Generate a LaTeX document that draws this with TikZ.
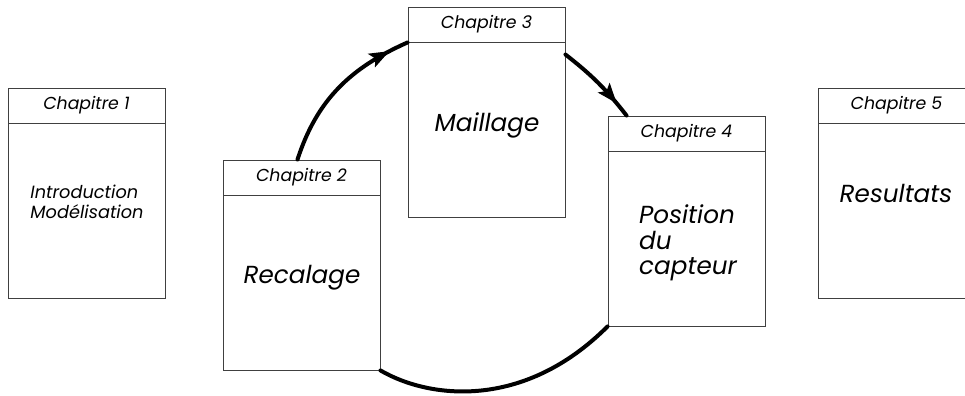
\documentclass[tikz,border=0pt]{standalone}
\usepackage{fontspec}
\setmainfont{Poppins}
\usetikzlibrary{arrows.meta,decorations.markings,calc}
\begin{document}
\begin{tikzpicture}[x=0.75pt,y=0.75pt,
  boxline/.style={draw=black!75,line width=0.7pt},
  header/.style={boxline,minimum width=117.75pt,minimum height=26.25pt,inner sep=0pt,
    font=\itshape\fontsize{13}{15}\selectfont},
  body/.style={boxline,minimum width=117.75pt,minimum height=131.25pt,inner sep=0pt},
  bigtxt/.style={font=\itshape\fontsize{18.5}{19}\selectfont,inner sep=0pt},
  smalltxt/.style={font=\itshape\fontsize{13.3}{15}\selectfont,inner sep=0pt,align=left},
  cycle/.style={line width=3pt,line cap=round},
  midhead/.style={postaction={decorate},decoration={markings,
    mark=at position #1 with {\arrow{Stealth[length=15pt,width=11pt,inset=3pt]}}}}
]
\useasboundingbox (0,0) rectangle (965,396);
% Chapter 1
\node[header] (h1) at (86.5,290.5) {Chapitre 1};
\node[body] (b1) at (86.5,185.5) {};
\node[smalltxt] (t1) at (87,194) {Introduction\\Modélisation};
% Chapter 2
\node[header] (h2) at (301.5,218.5) {Chapitre 2};
\node[body] (b2) at (301.5,113.5) {};
\node[bigtxt] (t2) at (302,118) {Recalage};
% Chapter 3
\node[header] (h3) at (486.5,371.5) {Chapitre 3};
\node[body] (b3) at (486.5,266.5) {};
\node[bigtxt] (t3) at (487,271) {Maillage};
% Chapter 4
\node[header] (h4) at (686.5,262.5) {Chapitre 4};
\node[body] (b4) at (686.5,157.5) {};
\node[bigtxt,align=left] (t4) at (688,153) {Position\\du\\capteur};
% Chapter 5
\node[header] (h5) at (896.5,290.5) {Chapitre 5};
\node[body] (b5) at (896.5,185.5) {};
\node[bigtxt] (t5) at (896,203) {Resultats};
% cycle arcs
\coordinate (a2s) at ($(h2.north)+(-4,0)$);
\coordinate (a3s) at ($(b3.north east)+(0,-13)$);
\coordinate (a4e) at ($(h4.north west)+(19,0)$);
\draw[cycle,midhead=0.88] (a2s) to[out=72,in=204] (h3.south west);
\draw[cycle,midhead=0.82] (a3s) to[out=-38,in=128] (a4e);
\draw[cycle] (b2.south east) .. controls ($(b2.south east)+(50,-29)$) and ($(b4.south west)+(-83,-83)$) .. (b4.south west);
\end{tikzpicture}
\end{document}
